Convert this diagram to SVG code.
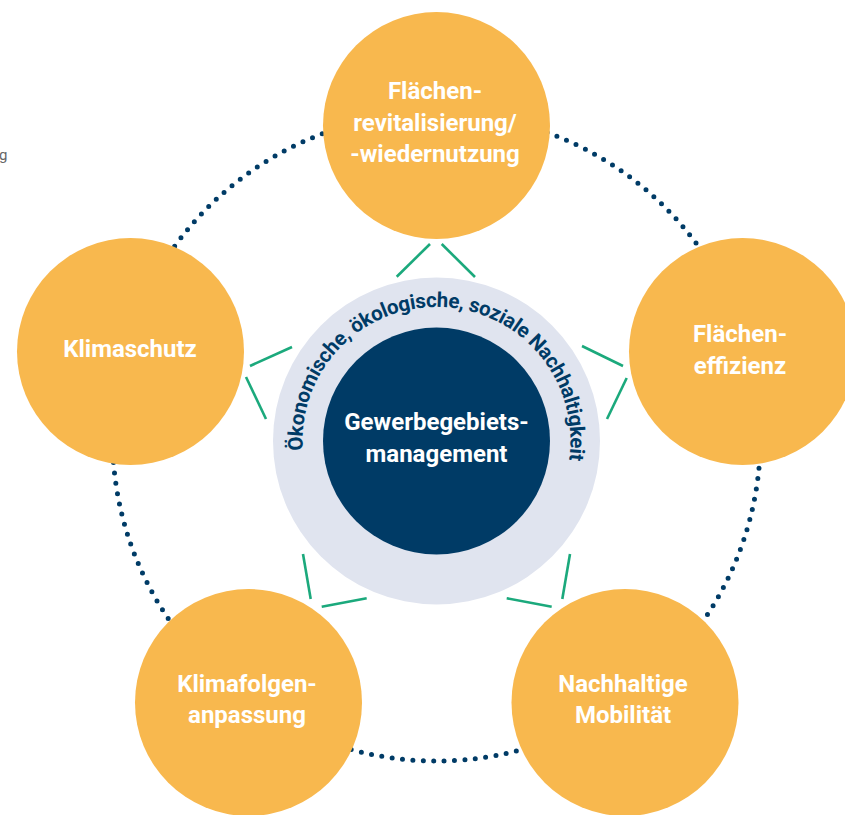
<svg xmlns="http://www.w3.org/2000/svg" width="845" height="815" viewBox="0 0 845 815">
<defs>
<style>
.node{fill:#f8b84e}
.lbl{font-family:Roboto,"Liberation Sans",sans-serif;font-weight:bold;font-size:24px;fill:#ffffff;text-anchor:middle}
.green line{stroke:#1ba97c;stroke-width:2.6;stroke-linecap:butt}
.arc{font-family:Roboto,"Liberation Sans",sans-serif;font-weight:bold;font-size:20.5px;letter-spacing:-0.3px;fill:#003b66}
</style>
<path id="arcPath" d="M 304.54 464.27 A 134 134 0 1 1 568.46 464.27"/>
</defs>
<rect width="845" height="815" fill="#ffffff"/>
<text x="-1" y="160" font-family="Roboto,'Liberation Sans',sans-serif" font-size="15" fill="#666666">g</text>
<g id="connectors">
<circle cx="436.5" cy="437" r="324" fill="none" stroke="#003b66" stroke-width="5" stroke-dasharray="0 10.44" stroke-linecap="round"/>
<g class="green">
<line x1="430" y1="244" x2="396.7" y2="276.7"/>
<line x1="441.7" y1="244" x2="475" y2="277"/>
<line x1="250" y1="366" x2="292" y2="347"/>
<line x1="246" y1="377" x2="266" y2="419"/>
<line x1="582" y1="346" x2="623" y2="366"/>
<line x1="626.7" y1="378" x2="607" y2="419"/>
<line x1="303" y1="554" x2="310.7" y2="599"/>
<line x1="321.7" y1="606.7" x2="366.7" y2="598.3"/>
<line x1="570" y1="554" x2="562.3" y2="599"/>
<line x1="506.7" y1="598.3" x2="551.7" y2="606.7"/>
</g>
</g>
<g id="center">
<circle cx="436.5" cy="441" r="163.5" fill="#e0e4ef"/>
<circle cx="436.5" cy="441" r="113.5" fill="#003b66"/>
<text class="arc"><textPath href="#arcPath" startOffset="51%" text-anchor="middle">Ökonomische, ökologische, soziale Nachhaltigkeit</textPath></text>
<text class="lbl" x="436.5" y="430">Gewerbegebiets-</text>
<text class="lbl" x="436.5" y="462">management</text>
</g>
<g id="n-top">
<circle class="node" cx="436.5" cy="125.5" r="113.5"/>
<text class="lbl" x="435" y="99">Flächen-</text>
<text class="lbl" x="435" y="130.5">revitalisierung/</text>
<text class="lbl" x="435" y="162">-wiedernutzung</text>
</g>
<g id="n-right">
<circle class="node" cx="742.5" cy="351.5" r="113.5"/>
<text class="lbl" x="740" y="342">Flächen-</text>
<text class="lbl" x="740" y="373.5">effizienz</text>
</g>
<g id="n-left">
<circle class="node" cx="130.5" cy="351.5" r="113.5"/>
<text class="lbl" x="130" y="357">Klimaschutz</text>
</g>
<g id="n-bottom-left">
<circle class="node" cx="248.5" cy="702.5" r="113.5"/>
<text class="lbl" x="247" y="692">Klimafolgen-</text>
<text class="lbl" x="247" y="723">anpassung</text>
</g>
<g id="n-bottom-right">
<circle class="node" cx="625" cy="702.5" r="113.5"/>
<text class="lbl" x="623" y="692">Nachhaltige</text>
<text class="lbl" x="623" y="723">Mobilität</text>
</g>
</svg>
